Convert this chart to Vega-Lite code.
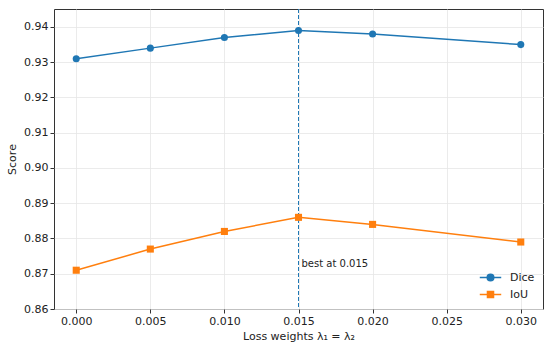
{
  "$schema": "https://vega.github.io/schema/vega-lite/v6.json",
  "width": 489,
  "height": 300,
  "padding": {"left": 6, "top": 8, "right": 5, "bottom": 5},
  "config": {
    "font": "DejaVu Sans",
    "view": {"stroke": "#333333", "strokeWidth": 1},
    "axis": {
      "labelFont": "DejaVu Sans",
      "titleFont": "DejaVu Sans",
      "labelFontSize": 11,
      "titleFontSize": 11,
      "titleFontWeight": "normal",
      "labelColor": "#222222",
      "titleColor": "#222222",
      "gridColor": "#e6e6e6",
      "gridWidth": 0.8,
      "domain": false,
      "tickColor": "#333333",
      "tickSize": 4,
      "labelOverlap": false
    }
  },
  "datasets": {
    "scores": [
      {"w": 0.000, "metric": "Dice", "score": 0.931},
      {"w": 0.005, "metric": "Dice", "score": 0.934},
      {"w": 0.010, "metric": "Dice", "score": 0.937},
      {"w": 0.015, "metric": "Dice", "score": 0.939},
      {"w": 0.020, "metric": "Dice", "score": 0.938},
      {"w": 0.030, "metric": "Dice", "score": 0.935},
      {"w": 0.000, "metric": "IoU", "score": 0.871},
      {"w": 0.005, "metric": "IoU", "score": 0.877},
      {"w": 0.010, "metric": "IoU", "score": 0.882},
      {"w": 0.015, "metric": "IoU", "score": 0.886},
      {"w": 0.020, "metric": "IoU", "score": 0.884},
      {"w": 0.030, "metric": "IoU", "score": 0.879}
    ],
    "best": [{"w": 0.015, "score": 0.8728, "label": "best at 0.015"}]
  },
  "layer": [
    {
      "data": {"name": "scores"},
      "mark": {"type": "line", "strokeWidth": 1.5},
      "encoding": {
        "x": {
          "field": "w", "type": "quantitative",
          "scale": {"domain": [-0.0015, 0.0315], "nice": false, "zero": false},
          "axis": {"title": "Loss weights λ₁ = λ₂", "values": [0, 0.005, 0.01, 0.015, 0.02, 0.025, 0.03], "format": ".3f", "titlePadding": 4}
        },
        "y": {
          "field": "score", "type": "quantitative",
          "scale": {"domain": [0.86, 0.9451], "nice": false, "zero": false},
          "axis": {"title": "Score", "values": [0.86, 0.87, 0.88, 0.89, 0.9, 0.91, 0.92, 0.93, 0.94], "tickCount": 9, "format": ".2f", "titlePadding": 6}
        },
        "color": {
          "field": "metric", "type": "nominal",
          "scale": {"domain": ["Dice", "IoU"], "range": ["#1f77b4", "#ff7f0e"]},
          "legend": {
            "title": null,
            "orient": "bottom-right",
            "offset": 8,
            "labelFontSize": 11,
            "labelFont": "DejaVu Sans",
            "labelColor": "#222222",
            "symbolSize": 380,
            "symbolStrokeWidth": 1.5,
            "rowPadding": 0,
            "labelOffset": 9,
            "encode": {
              "symbols": {
                "update": {
                  "shape": {"signal": "datum.value === 'Dice' ? 'M-1.1,0H1.1M0.34,0A0.34,0.34 0 1,1 -0.34,0A0.34,0.34 0 1,1 0.34,0Z' : 'M-1.1,0H1.1M-0.31,-0.31H0.31V0.31H-0.31Z'"},
                  "fill": {"signal": "datum.value === 'Dice' ? '#1f77b4' : '#ff7f0e'"},
                  "fillOpacity": {"value": 1}
                }
              }
            }
          }
        }
      }
    },
    {
      "data": {"name": "best"},
      "mark": {"type": "rule", "stroke": "#1f77b4", "color": "#1f77b4", "strokeDash": [4, 2], "strokeWidth": 1},
      "encoding": {
        "x": {"field": "w", "type": "quantitative"}
      }
    },
    {
      "data": {"name": "scores"},
      "transform": [{"filter": "datum.metric === 'Dice'"}],
      "mark": {"type": "point", "filled": true, "opacity": 1, "size": 50, "shape": "circle", "color": "#1f77b4"},
      "encoding": {
        "x": {"field": "w", "type": "quantitative"},
        "y": {
          "field": "score", "type": "quantitative",
          "axis": {"title": "Score", "values": [0.86, 0.87, 0.88, 0.89, 0.9, 0.91, 0.92, 0.93, 0.94], "tickCount": 9, "format": ".2f", "titlePadding": 6}
        }
      }
    },
    {
      "data": {"name": "scores"},
      "transform": [{"filter": "datum.metric === 'IoU'"}],
      "mark": {"type": "point", "filled": true, "opacity": 1, "size": 50, "shape": "square", "color": "#ff7f0e"},
      "encoding": {
        "x": {"field": "w", "type": "quantitative"},
        "y": {
          "field": "score", "type": "quantitative",
          "axis": {"title": "Score", "values": [0.86, 0.87, 0.88, 0.89, 0.9, 0.91, 0.92, 0.93, 0.94], "tickCount": 9, "format": ".2f", "titlePadding": 6}
        }
      }
    },
    {
      "data": {"name": "best"},
      "mark": {"type": "text", "align": "left", "dx": 3, "fontSize": 10, "font": "DejaVu Sans", "color": "#222222"},
      "encoding": {
        "x": {"field": "w", "type": "quantitative"},
        "y": {
          "field": "score", "type": "quantitative",
          "axis": {"title": "Score", "values": [0.86, 0.87, 0.88, 0.89, 0.9, 0.91, 0.92, 0.93, 0.94], "tickCount": 9, "format": ".2f", "titlePadding": 6}
        },
        "text": {"field": "label"}
      }
    }
  ]
}
